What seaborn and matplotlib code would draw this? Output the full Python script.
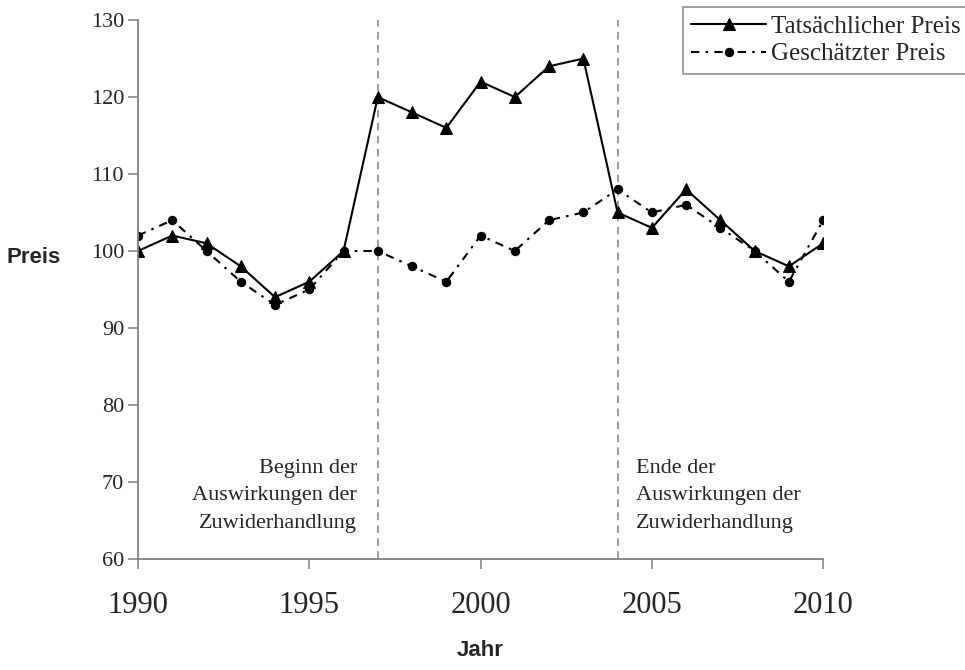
import numpy as np
import pandas as pd
import seaborn as sns
import matplotlib.pyplot as plt

# Daten
jahre = list(range(1990, 2011))
tatsaechlich = [100, 102, 101, 98, 94, 96, 100, 120, 118, 116, 122, 120, 124, 125, 105, 103, 108, 104, 100, 98, 101]
geschaetzt = [102, 104, 100, 96, 93, 95, 100, 100, 98, 96, 102, 100, 104, 105, 108, 105, 106, 103, 100, 96, 104]
x_ticks = [1990, 1995, 2000, 2005, 2010]
y_ticks = [60, 70, 80, 90, 100, 110, 120, 130]
beginn, ende = 1997, 2004

df = pd.DataFrame({'Jahr': jahre, 'Tatsächlicher Preis': tatsaechlich, 'Geschätzter Preis': geschaetzt})

sns.set_style("white")
plt.rcParams['font.family'] = ['Liberation Serif', 'DejaVu Serif']

fig = plt.figure(figsize=(9.65, 6.7), dpi=100)
ax = fig.add_axes([0.143, 0.166, 0.71, 0.804])

sns.lineplot(data=df, x='Jahr', y='Tatsächlicher Preis', ax=ax, color='black', lw=1.5,
             marker='^', markersize=8, markeredgecolor='black', label='Tatsächlicher Preis')
sns.lineplot(data=df, x='Jahr', y='Geschätzter Preis', ax=ax, color='black', lw=1.5,
             marker='o', markersize=6, markeredgecolor='black', dashes=False,
             label='Geschätzter Preis')
ax.lines[1].set_dashes([4, 3, 1.2, 3])

# Vertikale Linien
for j in (beginn, ende):
    ax.axvline(j, color='#808080', lw=1.1, dashes=(5, 3.5), zorder=0)

ax.set_xlim(1990, 2010)
ax.set_ylim(60, 130)
ax.set_xticks(x_ticks)
ax.set_yticks(y_ticks)
ax.tick_params(axis='x', labelsize=22, length=7, width=1.1, color='#808080', direction='out', pad=16, bottom=True)
ax.tick_params(axis='y', labelsize=16, length=7, width=1.1, color='#808080', direction='out', pad=3, left=True)
for s in ('top', 'right'):
    ax.spines[s].set_visible(False)
for s in ('left', 'bottom'):
    ax.spines[s].set_color('#808080')
    ax.spines[s].set_linewidth(1.3)

ax.set_xlabel('Jahr', fontsize=16, fontweight='bold', family=['Liberation Sans'])
ax.set_ylabel('Preis', fontsize=16, fontweight='bold', family=['Liberation Sans'],
              rotation=0, va='center')
ax.xaxis.set_label_coords(0.5, -0.15)
ax.yaxis.set_label_coords(-0.152, 0.56)

# Beschriftungen
ax.annotate('Beginn der\nAuswirkungen der\nZuwiderhandlung', xy=(beginn, 68.2), xytext=(-15, 0),
            textcoords='offset points', ha='right', va='center', fontsize=16, linespacing=1.6)
ax.annotate('Ende der\nAuswirkungen der\nZuwiderhandlung', xy=(ende, 68.2), xytext=(13, 0),
            textcoords='offset points', ha='left', va='center', fontsize=16, linespacing=1.6)

leg = ax.legend(loc='upper right', bbox_to_anchor=(1.005, 0.99), bbox_transform=fig.transFigure,
                fontsize=18, frameon=True, fancybox=False, borderpad=0.35, labelspacing=0.2,
                handlelength=3.0, handletextpad=0.2, borderaxespad=0)
leg.get_frame().set_edgecolor('#808080')
leg.get_frame().set_linewidth(1.3)

plt.savefig("out.png", dpi=100)
